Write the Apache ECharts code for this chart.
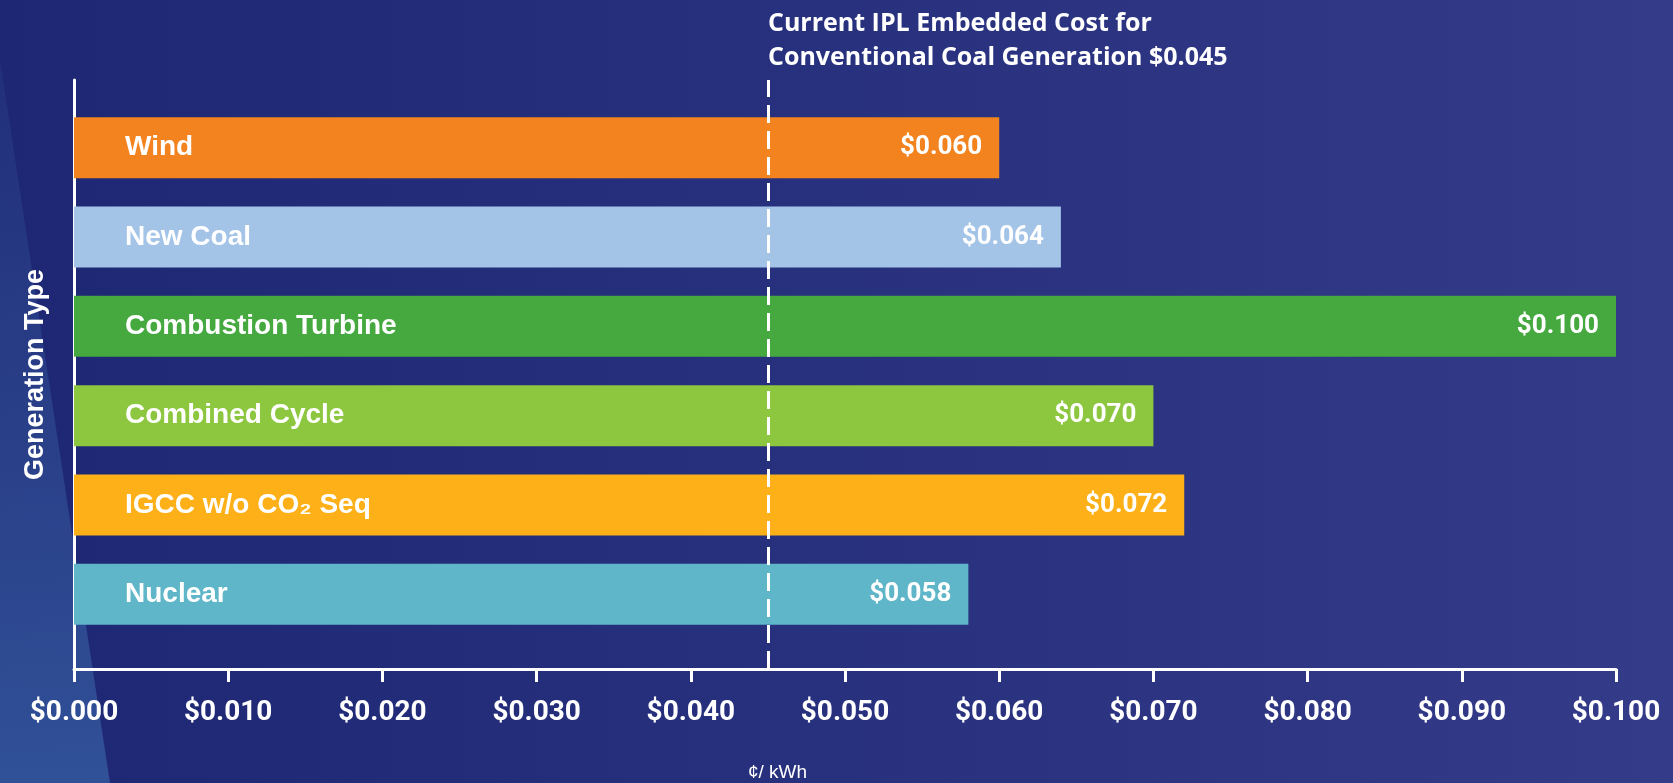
<!DOCTYPE html>
<html>
<head>
<meta charset="utf-8">
<script src="https://cdn.jsdelivr.net/npm/echarts@6/dist/echarts.min.js"></script>
<style>
  html, body { margin: 0; padding: 0; }
  #main { width: 1673px; height: 783px; }
</style>
</head>
<body>
<div id="main"></div>
<script>
// generation types, top to bottom
const categories = ["Wind", "New Coal", "Combustion Turbine", "Combined Cycle", "IGCC w/o CO₂ Seq", "Nuclear"];
const costs = [0.060, 0.064, 0.100, 0.070, 0.072, 0.058];
const barColors = ["#F3831F", "#A3C3E7", "#45A940", "#8DC63F", "#FDB018", "#5FB6C8"];
const xTicks = [0, 0.01, 0.02, 0.03, 0.04, 0.05, 0.06, 0.07, 0.08, 0.09, 0.1];
const embeddedCost = 0.045;

const fmt = v => "$" + v.toFixed(3);
const font = "'Liberation Sans', Arial, sans-serif";

const chart = echarts.init(document.getElementById("main"));

const option = {
  backgroundColor: {
    type: "linear", x: 0, y: 0, x2: 1, y2: 0,
    colorStops: [
      { offset: 0, color: "#1E2774" },
      { offset: 0.5, color: "#28317E" },
      { offset: 1, color: "#343B89" }
    ]
  },
  title: {
    text: "Current IPL Embedded Cost for\nConventional Coal Generation " + fmt(embeddedCost),
    left: 763,
    top: 2,
    textStyle: {
      color: "#fff",
      fontFamily: "'Open Sans', sans-serif",
      fontWeight: "bold",
      fontSize: 25,
      lineHeight: 34
    }
  },
  graphic: [
    {
      type: "polygon",
      z: -1,
      shape: { points: [[0, 60], [110, 783], [0, 783]] },
      style: {
        fill: {
          type: "linear", x: 0, y: 0, x2: 0, y2: 1,
          colorStops: [
            { offset: 0, color: "rgba(50,80,150,0.2)" },
            { offset: 1, color: "rgba(50,85,155,0.9)" }
          ]
        }
      }
    },
    {
      type: "text",
      left: 748,
      top: 763,
      style: { text: "¢/ kWh", fill: "#fff", font: "19px " + font }
    }
  ],
  grid: [
    { left: 74, right: 57, top: 103, bottom: 144 },
    { left: 74, right: 57, top: 80, bottom: 114 }
  ],
  xAxis: [
    { gridIndex: 0, type: "value", min: 0, max: 0.1, show: false },
    {
      gridIndex: 1, type: "value", min: 0, max: 0.1, interval: 0.01,
      axisLine: { show: true, onZero: false, lineStyle: { color: "#fff", width: 3 } },
      axisTick: { show: true, length: 13, lineStyle: { color: "#fff", width: 3 } },
      axisLabel: {
        color: "#fff", fontFamily: "Roboto, sans-serif", fontWeight: "bold",
        fontSize: 28, margin: 30, formatter: v => fmt(v)
      },
      splitLine: { show: false }
    },
    {
      gridIndex: 1, type: "value", min: 0, max: 0.1, interval: 0.01,
      axisLine: { show: false },
      axisTick: { show: true, inside: true, length: 13, lineStyle: { color: "#fff", width: 3 } },
      axisLabel: { show: false },
      splitLine: { show: false }
    }
  ],
  yAxis: [
    {
      gridIndex: 0, type: "category", inverse: true, data: categories,
      z: 10,
      axisLine: { show: false },
      axisTick: { show: false },
      axisLabel: {
        inside: true, margin: 51, color: "#fff",
        fontFamily: font, fontWeight: "bold", fontSize: 28
      }
    },
    {
      gridIndex: 1, type: "value", min: 0, max: 1,
      axisLine: { show: true, onZero: false, lineStyle: { color: "#fff", width: 3 } },
      axisTick: { show: false },
      axisLabel: { show: false },
      splitLine: { show: false },
      name: "Generation Type",
      nameLocation: "middle",
      nameRotate: 90,
      nameGap: 25,
      nameTextStyle: { color: "#fff", fontFamily: font, fontWeight: "bold", fontSize: 27 }
    }
  ],
  series: [
    {
      type: "bar",
      xAxisIndex: 0,
      yAxisIndex: 0,
      barWidth: 61,
      data: costs.map((v, i) => ({ value: v, itemStyle: { color: barColors[i] } })),
      label: {
        show: true,
        position: "insideRight",
        distance: 17,
        color: "#fff",
        fontFamily: "Roboto, sans-serif",
        fontWeight: "bold",
        fontSize: 26,
        formatter: p => fmt(p.value)
      },
      z: 2
    },
    {
      type: "line",
      xAxisIndex: 1,
      yAxisIndex: 1,
      data: [],
      z: 5,
      markLine: {
        silent: true,
        symbol: "none",
        precision: 3,
        label: { show: false },
        lineStyle: { color: "#fff", width: 3, type: [18, 8] },
        data: [{ xAxis: embeddedCost }]
      }
    }
  ]
};

chart.setOption(option);
window.addEventListener("resize", function () {
  chart.resize();
});
</script>
</body>
</html>
